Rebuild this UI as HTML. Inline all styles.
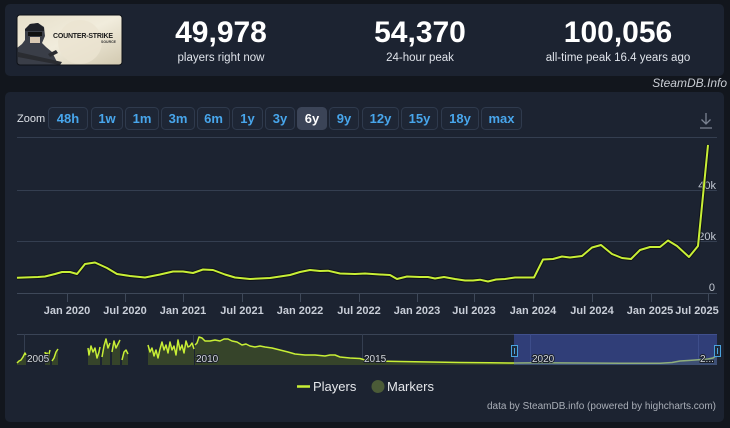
<!DOCTYPE html>
<html><head><meta charset="utf-8">
<style>
html,body{margin:0;padding:0;background:#12161d;}
body{width:730px;height:428px;overflow:hidden;position:relative;font-family:"Liberation Sans",sans-serif;}
svg{position:absolute;left:0;top:0;}
</style></head>
<body>
<svg width="730" height="428" viewBox="0 0 730 428" xmlns="http://www.w3.org/2000/svg" font-family="Liberation Sans, sans-serif">
  <defs>
    <linearGradient id="lg" x1="0" y1="0" x2="1" y2="1">
      <stop offset="0" stop-color="#e6dfca"/>
      <stop offset="0.5" stop-color="#f1ecdc"/>
      <stop offset="1" stop-color="#d2c9b0"/>
    </linearGradient>
    <clipPath id="logoclip"><rect x="17" y="15" width="105" height="50" rx="3"/></clipPath>
  </defs>
  <rect x="0" y="0" width="730" height="428" fill="#12161d"/>
  <!-- header card -->
  <rect x="5" y="4" width="719" height="72" rx="5" fill="#1c2331"/>
  <!-- logo -->
  <g clip-path="url(#logoclip)">
    <rect x="17" y="15" width="105" height="50" fill="url(#lg)"/>
    <circle cx="80" cy="42" r="22" fill="#ebe4d1" opacity="0.8"/>
    <path d="M17 65 L17 48 L22 44 L25 40 L25 30 L30 24 L38 23 L44 27 L45 36 L42 43 L46 47 L52 52 L56 60 L58 65 Z" fill="#3a3e48"/>
    <path d="M25 31 L44 31 L44 28 L38 23 L30 24 L25 29 Z" fill="#1f2128"/>
    <rect x="28" y="32" width="14" height="4" fill="#111"/>
    <rect x="30" y="37" width="10" height="6" fill="#d9c9b4"/>
    <path d="M18 52 L62 62 L60 65 L18 57 Z" fill="#2a2c31"/>
    <path d="M48 54 L56 50 L58 53 L50 57 Z" fill="#2a2c31"/>
    <text x="53" y="38" font-size="7" font-weight="bold" fill="#1a1a1a" letter-spacing="-0.2">COUNTER-STRIKE</text>
    <text x="101" y="43" font-size="3.5" font-weight="bold" fill="#333">SOURCE</text>
  </g>
  <rect x="17" y="15" width="105" height="50" rx="3" fill="none" stroke="#0e1117" stroke-width="1"/>
  <!-- stats -->
  <g fill="#ffffff" text-anchor="middle">
    <text x="221" y="42" font-size="30" font-weight="bold">49,978</text>
    <text x="420" y="42" font-size="30" font-weight="bold">54,370</text>
    <text x="618" y="42" font-size="30" font-weight="bold">100,056</text>
  </g>
  <g fill="#dfe3ea" text-anchor="middle" font-size="11.5">
    <text x="221" y="61">players right now</text>
    <text x="420" y="61">24-hour peak</text>
    <text x="618" y="61">all-time peak 16.4 years ago</text>
  </g>
  <text x="727" y="87" font-size="12" font-style="italic" fill="#c9cdd4" text-anchor="end">SteamDB.Info</text>

  <!-- chart card -->
  <rect x="5" y="92" width="719" height="330" rx="5" fill="#1c2331"/>

  <!-- zoom buttons -->
  <text x="17" y="122" font-size="11" fill="#dde1e7">Zoom</text>
  <g stroke="#2f3a4d" stroke-width="1" fill="#1e2635">
    <rect x="48.5" y="107.5" width="39" height="22" rx="4"/>
    <rect x="91.5" y="107.5" width="31" height="22" rx="4"/>
    <rect x="125.5" y="107.5" width="33" height="22" rx="4"/>
    <rect x="161.5" y="107.5" width="33" height="22" rx="4"/>
    <rect x="197.5" y="107.5" width="32" height="22" rx="4"/>
    <rect x="232.5" y="107.5" width="30" height="22" rx="4"/>
    <rect x="265.5" y="107.5" width="29" height="22" rx="4"/>
    <rect x="297.5" y="107.5" width="29" height="22" rx="4" fill="#3b4457" stroke="#3b4457"/>
    <rect x="329.5" y="107.5" width="29" height="22" rx="4"/>
    <rect x="362.5" y="107.5" width="36" height="22" rx="4"/>
    <rect x="401.5" y="107.5" width="36" height="22" rx="4"/>
    <rect x="441.5" y="107.5" width="37" height="22" rx="4"/>
    <rect x="481.5" y="107.5" width="40" height="22" rx="4"/>
  </g>
  <g font-size="13" font-weight="bold" fill="#48a6ec" text-anchor="middle">
    <text x="68" y="123">48h</text>
    <text x="107" y="123">1w</text>
    <text x="142" y="123">1m</text>
    <text x="178" y="123">3m</text>
    <text x="213.5" y="123">6m</text>
    <text x="247.5" y="123">1y</text>
    <text x="280" y="123">3y</text>
    <text x="312" y="123" fill="#ffffff">6y</text>
    <text x="344" y="123">9y</text>
    <text x="380.5" y="123">12y</text>
    <text x="419.5" y="123">15y</text>
    <text x="460" y="123">18y</text>
    <text x="501.5" y="123">max</text>
  </g>
  <!-- download icon -->
  <g stroke="#7b8392" stroke-width="1.3" fill="none">
    <path d="M706 113 L706 124 M701.5 119.5 L706 124 L710.5 119.5 M700 128 L712 128"/>
  </g>

  <!-- gridlines -->
  <g stroke="#343e50" stroke-width="1">
    <line x1="17" y1="137.5" x2="717" y2="137.5"/>
    <line x1="17" y1="190.5" x2="717" y2="190.5"/>
    <line x1="17" y1="241.5" x2="717" y2="241.5"/>
  </g>
  <line x1="17" y1="293.5" x2="717" y2="293.5" stroke="#3e4859" stroke-width="1"/>
  <!-- ticks -->
  <g stroke="#3e4859" stroke-width="1">
    <line x1="67.5" y1="293" x2="67.5" y2="302"/>
    <line x1="125.5" y1="293" x2="125.5" y2="302"/>
    <line x1="183.5" y1="293" x2="183.5" y2="302"/>
    <line x1="242.5" y1="293" x2="242.5" y2="302"/>
    <line x1="300.5" y1="293" x2="300.5" y2="302"/>
    <line x1="359.5" y1="293" x2="359.5" y2="302"/>
    <line x1="417.5" y1="293" x2="417.5" y2="302"/>
    <line x1="474.5" y1="293" x2="474.5" y2="302"/>
    <line x1="533.5" y1="293" x2="533.5" y2="302"/>
    <line x1="592.5" y1="293" x2="592.5" y2="302"/>
    <line x1="651.5" y1="293" x2="651.5" y2="302"/>
    <line x1="708.5" y1="293" x2="708.5" y2="302"/>
  </g>
  <!-- y labels -->
  <g font-size="11" fill="#c2c8d2" text-anchor="end">
    <text x="716" y="189">40k</text>
    <text x="716" y="240">20k</text>
    <text x="715" y="291">0</text>
  </g>
  <!-- x labels -->
  <g font-size="11" font-weight="bold" fill="#c9ced8" text-anchor="middle">
    <text x="67" y="314">Jan 2020</text>
    <text x="125" y="314">Jul 2020</text>
    <text x="183" y="314">Jan 2021</text>
    <text x="242" y="314">Jul 2021</text>
    <text x="300" y="314">Jan 2022</text>
    <text x="359" y="314">Jul 2022</text>
    <text x="417" y="314">Jan 2023</text>
    <text x="474" y="314">Jul 2023</text>
    <text x="533" y="314">Jan 2024</text>
    <text x="592" y="314">Jul 2024</text>
    <text x="650" y="314">Jan 2025</text>
    <text x="697" y="314">Jul 2025</text>
  </g>

  <!-- main series -->
  <polyline fill="none" stroke="#0a0c10" stroke-opacity="0.7" stroke-width="4" stroke-linejoin="round" points="17,277.7 38,277 45,276.5 55,274 62,272 70,272 77,274 85,264 95,262.5 107,268 117,274 130,276 145,277.5 160,274.5 173,271.5 183,271.5 193,273 203,269.5 213,270 225,274.5 235,277.5 250,279 270,278 290,275 300,272 310,270 320,271 328,270.7 340,273.5 355,274 365,273.5 380,274.5 390,275 397,279 407,276.5 420,277 428,277 435,278.5 444,277 455,279 465,280.5 473,280.5 480,279.7 488,281.5 496,279.5 505,279 515,277.5 534,277.5 543,259.5 553,259 562,256.5 570,257.5 582,256 592,247.5 601,245 612,254 622,258 631,259 640,250 650,247 660,247 668,240.5 677,246 689,257 698,246 708,145"/>
  <polyline fill="none" stroke="#c8ef36" stroke-width="2" stroke-linejoin="round" points="17,277.7 38,277 45,276.5 55,274 62,272 70,272 77,274 85,264 95,262.5 107,268 117,274 130,276 145,277.5 160,274.5 173,271.5 183,271.5 193,273 203,269.5 213,270 225,274.5 235,277.5 250,279 270,278 290,275 300,272 310,270 320,271 328,270.7 340,273.5 355,274 365,273.5 380,274.5 390,275 397,279 407,276.5 420,277 428,277 435,278.5 444,277 455,279 465,280.5 473,280.5 480,279.7 488,281.5 496,279.5 505,279 515,277.5 534,277.5 543,259.5 553,259 562,256.5 570,257.5 582,256 592,247.5 601,245 612,254 622,258 631,259 640,250 650,247 660,247 668,240.5 677,246 689,257 698,246 708,145"/>

  <!-- navigator -->
  <line x1="17" y1="334.5" x2="717" y2="334.5" stroke="#3a4456" stroke-width="1"/>
  <g stroke="#343e50" stroke-width="1">
    <line x1="24.5" y1="334" x2="24.5" y2="365"/>
    <line x1="193.5" y1="334" x2="193.5" y2="365"/>
    <line x1="362.5" y1="334" x2="362.5" y2="365"/>
    <line x1="530.5" y1="334" x2="530.5" y2="365"/>
    <line x1="698.5" y1="334" x2="698.5" y2="365"/>
  </g>
  <g fill="#36442a">
    <polygon points="17,365 17,363 19,361 21,360 23,357 25,353 26,355 26,365"/>
    <polygon points="45,365 45,352 46,356 47,353 48,358 50,350 50,365"/>
    <polygon points="52,365 52,361 54,358 56,352 58,349 58,365"/>
    <polygon points="88,365 88,348 89,355 91,346 93,352 95,348 97,358 99,352 100,347 100,365"/>
    <polygon points="102,365 102,357 104,346 106,339 108,348 110,343 110,365"/>
    <polygon points="112,365 112,352 114,341 116,348 118,344 120,340 120,365"/>
    <polygon points="122,365 122,360 124,352 126,350 128,354 128,365"/>
    <polygon points="148,365 148,345 150,352 152,348 154,356 156,350 158,358 160,349 162,342 164,350 166,345 168,353 170,342 172,350 174,346 176,355 178,340 180,350 182,345 184,353 186,341 188,347 190,346 192,343 194,349 194,365"/>
    <polygon points="195,365 195,345 197,343 199,337 202,338 205,341 210,341 215,340 220,341 224,339 228,339 232,341 237,342 242,345 246,344 250,346 255,347 260,346 265,347 272,348 280,350 288,352 295,354 305,355 315,355 325,356 330,355 335,355 340,357 350,358 360,358.5 365,360 375,361 400,361.5 430,362 460,362.5 490,362.8 514,363 540,362.8 580,363 620,363.3 660,363.3 672,362.5 680,361 688,360.5 695,360 702,359.5 708,359 713,358 717,355 717,365"/>
  </g>
  <g fill="none" stroke="#c8ef36" stroke-width="1.5" stroke-linejoin="round">
    <polyline points="17,363 19,361 21,360 23,357 25,353 26,355"/>
    <polyline points="45,352 46,356 47,353 48,358 50,350"/>
    <polyline points="52,361 54,358 56,352 58,349"/>
    <polyline points="88,348 89,355 91,346 93,352 95,348 97,358 99,352 100,347"/>
    <polyline points="102,357 104,346 106,339 108,348 110,343"/>
    <polyline points="112,352 114,341 116,348 118,344 120,340"/>
    <polyline points="122,360 124,352 126,350 128,354"/>
    <polyline points="148,345 150,352 152,348 154,356 156,350 158,358 160,349 162,342 164,350 166,345 168,353 170,342 172,350 174,346 176,355 178,340 180,350 182,345 184,353 186,341 188,347 190,346 192,343 194,349"/>
    <polyline points="195,345 197,343 199,337 202,338 205,341 210,341 215,340 220,341 224,339 228,339 232,341 237,342 242,345 246,344 250,346 255,347 260,346 265,347 272,348 280,350 288,352 295,354 305,355 315,355 325,356 330,355 335,355 340,357 350,358 360,358.5 365,360 375,361 400,361.5 430,362 460,362.5 490,362.8 514,363 540,362.8 580,363 620,363.3 660,363.3 672,362.5 680,361 688,360.5 695,360 702,359.5 708,359 713,358 717,355"/>
  </g>
  <!-- selection -->
  <rect x="514" y="334" width="203" height="31" fill="#4a5fd0" fill-opacity="0.45"/>
  <g font-size="10" fill="#d4d8de" stroke="#1a1f28" stroke-width="2" paint-order="stroke">
    <text x="27" y="362">2005</text>
    <text x="196" y="362">2010</text>
    <text x="364" y="362">2015</text>
    <text x="532" y="362">2020</text>
    <text x="700" y="362">2...</text>
  </g>
  <g fill="#1f2a3a" stroke="#4aa3df" stroke-width="1">
    <rect x="511.5" y="345.5" width="6" height="11"/>
    <rect x="714.5" y="345.5" width="6" height="11"/>
  </g>
  <g stroke="#4aa3df" stroke-width="1">
    <line x1="514.5" y1="348" x2="514.5" y2="354"/>
    <line x1="717.5" y1="348" x2="717.5" y2="354"/>
  </g>

  <!-- legend -->
  <line x1="297" y1="386.5" x2="310" y2="386.5" stroke="#c8ef36" stroke-width="2.5"/>
  <text x="313" y="391" font-size="13" fill="#e6e8ec">Players</text>
  <circle cx="378" cy="386.5" r="6.5" fill="#4b5b37"/>
  <text x="387" y="391" font-size="13" fill="#e6e8ec">Markers</text>

  <text x="716" y="409" font-size="10" fill="#a9aeb7" text-anchor="end">data by SteamDB.info (powered by highcharts.com)</text>
</svg>
</body></html>
